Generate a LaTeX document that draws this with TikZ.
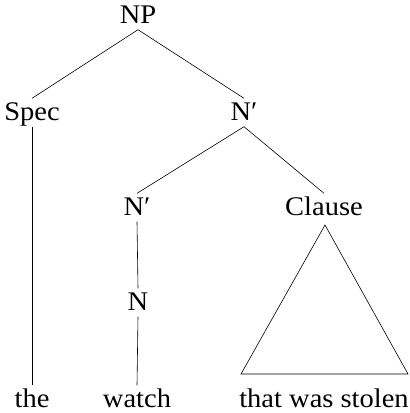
\documentclass[tikz,border=0pt]{standalone}
\usepackage{fontspec}
\setmainfont{Liberation Serif}[FakeStretch=1.06]
\usetikzlibrary{positioning}

\begin{document}
\begin{tikzpicture}[
    x=1bp, y=-1bp,
    word/.style={font=\fontsize{27}{31}\selectfont, inner sep=1.5pt, text height=20bp, text depth=5bp, anchor=base},
    edge/.style={draw, line width=0.6pt}
]
\useasboundingbox (0,0) rectangle (410,413);

% Phrase nodes
\node[word] (np) at (138,23) {NP};
\node[word] (spec) at (32,120) {Spec};
\node[word] (nbar) at (244,120) {N′};
\node[word] (nbarlow) at (137,215) {N′};
\node[word] (clause) at (324,215) {Clause};
\node[word] (n) at (138,310) {N};

% Words
\node[word] (the) at (32,407) {the};
\node[word] (watch) at (137,407) {watch};
\node[word] (stolen) at (324,407) {that was stolen};

% Triangle corners
\coordinate (apex) at (325,225);
\coordinate (left) at (241,374);
\coordinate (right) at (408,374);

% Branches
\draw[edge] (np.south) -- (spec.north);
\draw[edge] (np.south) -- (nbar.north);
\draw[edge] (spec.south) -- (the.north);
\draw[edge] (nbar.south) -- (nbarlow.north);
\draw[edge] (nbar.south) -- (clause.north);
\draw[edge] (nbarlow.south) -- (n.north);
\draw[edge] (n.south) -- (watch.north);

% Triangle under Clause
\draw[edge, line join=miter] (apex) -- (left) -- (right) -- cycle;

\end{tikzpicture}
\end{document}
